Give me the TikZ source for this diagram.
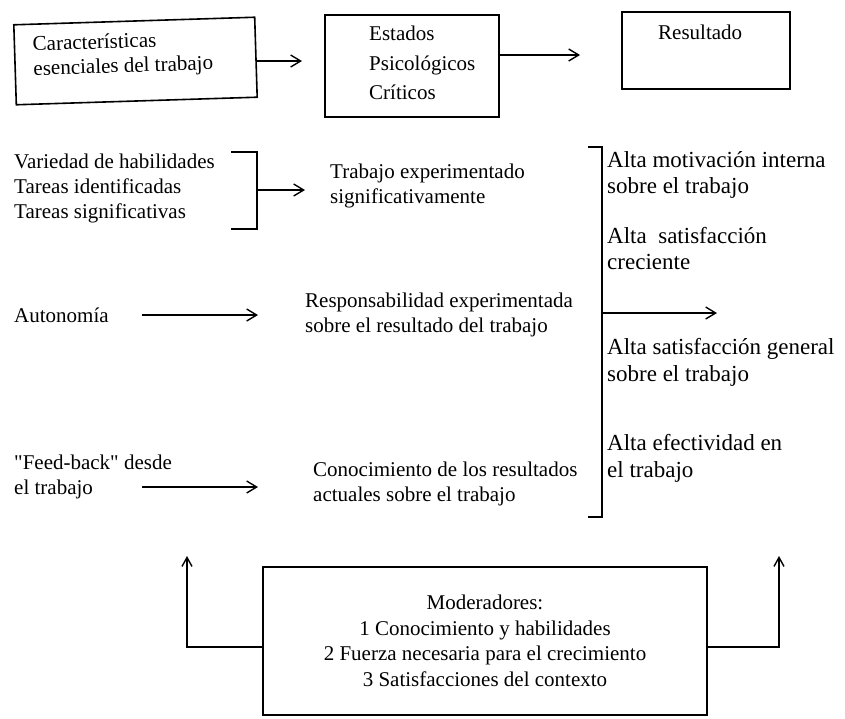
\documentclass[tikz,border=0pt]{standalone}
\usepackage{fontspec}
\setmainfont{Liberation Serif}
\usetikzlibrary{arrows.meta}
\begin{document}
\begin{tikzpicture}[x=1pt,y=-1pt,
  every node/.style={font=\fontsize{21}{25}\selectfont},
  txt/.style={inner sep=0pt, align=left, anchor=west},
  rtxt/.style={txt, font=\fontsize{23}{26.5}\selectfont},
  frame/.style={draw, line width=1.6pt, inner sep=0pt},
  bar/.style={line width=1.5pt},
  link/.style={line width=1.4pt, -{Straight Barb[length=10pt,width=12pt,line width=1.4pt]}},
  uplink/.style={line width=1.4pt, -{Straight Barb[length=9pt,width=10pt,line width=1.4pt]}}
]
\fill[white] (0,0) rectangle (845,718);
\useasboundingbox (0,0) rectangle (845,718);

% top row: three boxes
\node[frame, minimum width=241pt, minimum height=80pt, rotate=1.8] (b1) at (135.5,61) {};
\node[txt, rotate=1.8, font=\fontsize{21}{24.5}\selectfont] (t1) at (33,58) {Características\\esenciales del trabajo};
\node[frame, minimum width=174pt, minimum height=102pt] (b2) at (412,66) {};
\node[txt, font=\fontsize{21}{29.5}\selectfont] (t2) at (369,63) {Estados\\Psicológicos\\Críticos};
\node[frame, minimum width=168pt, minimum height=77pt] (b3) at (706,50.5) {};
\node[txt] (t3) at (658,32) {Resultado};

\coordinate (a1) at (302,61);
\coordinate (a2) at (580,55);
\draw[link] (b1.east |- a1) -- (a1);
\draw[link] (b2.east |- a2) -- (a2);

% job characteristics
\node[txt] (v) at (14,188) {Variedad de habilidades\\Tareas identificadas\\Tareas significativas};
\node[txt] (auto) at (14,315) {Autonomía};
\node[txt] (feed) at (14,476.5) {\textquotedbl Feed-back\textquotedbl\ desde\\el trabajo};

% critical psychological states
\node[txt] (tsig) at (330,185.5) {Trabajo experimentado\\significativamente};
\node[txt] (resp) at (305,315) {Responsabilidad experimentada\\sobre el resultado del trabajo};
\node[txt] (conoc) at (313,483.5) {Conocimiento de los resultados\\actuales sobre el trabajo};

% bracket joining the first three characteristics
\coordinate (k1t) at (231,152);
\coordinate (k1b) at (231,229);
\coordinate (k1m) at (257,190);
\draw[bar] (k1t) -- ++(26,0) |- (k1b);
\draw[link, shorten >=25pt] (k1m) -- (k1m -| tsig.west);

\draw[link] ([xshift=128pt]auto.west) -- ([xshift=-47pt]resp.west);
\draw[link] ([shift={(128,10.5)}]feed.west) -- ([shift={(-55,3.5)}]conoc.west);

% outcomes
\coordinate (k2t) at (588,147);
\coordinate (k2b) at (588,517);
\coordinate (k2m) at (602,313);
\draw[bar] (k2t) -- ++(14,0) |- (k2b);
\draw[link] (k2m) -- ++(115,0);

\node[rtxt] (r1) at (607,175) {Alta motivación interna\\sobre el trabajo};
\node[rtxt] (r2) at (607,248.5) {Alta\ \ satisfacción\\creciente};
\node[rtxt] (r3) at (607,362.5) {Alta satisfacción general\\sobre el trabajo};
\node[rtxt] (r4) at (607,458.5) {Alta efectividad en\\el trabajo};

% moderators
\node[frame, minimum width=444pt, minimum height=148pt, align=center,
      font=\fontsize{21}{25.5}\selectfont] (mod) at (485,641)
  {Moderadores:\\1 Conocimiento y habilidades\\2 Fuerza necesaria para el crecimiento\\3 Satisfacciones del contexto};
\coordinate (lt) at (187,556);
\coordinate (rt) at (779,556);
\draw[uplink] ([yshift=-6pt]mod.west) -| (lt);
\draw[uplink] ([yshift=-6pt]mod.east) -| (rt);
\end{tikzpicture}
\end{document}
